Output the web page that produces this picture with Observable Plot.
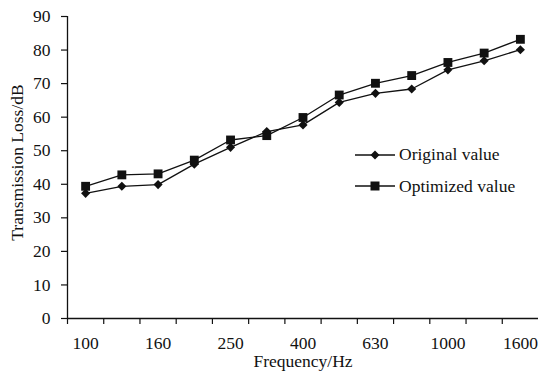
<!DOCTYPE html>
<html>
<head>
<meta charset="utf-8">
<script src="https://cdn.jsdelivr.net/npm/d3@7"></script>
<script src="https://cdn.jsdelivr.net/npm/@observablehq/plot@0.6"></script>
<style>
  html, body { margin: 0; padding: 0; background: #fff; }
  #wrap { position: relative; width: 538px; height: 375px; overflow: hidden; font-family: "Liberation Serif", "Times New Roman", serif; }
  #legend { position: absolute; left: 355px; top: 139px; font-size: 17.5px; color: #111; }
  #legend .row { display: flex; align-items: center; height: 31.5px; }
  #legend svg { display: block; margin-right: 4px; }
</style>
</head>
<body>
<div id="wrap"><div id="legend"></div></div>
<script>
const freqs = ["100","125","160","200","250","315","400","500","630","800","1000","1250","1600"];
const original  = [37.3, 39.4, 39.9, 46.0, 51.0, 55.7, 57.7, 64.4, 67.1, 68.4, 74.1, 76.8, 80.1];
const optimized = [39.4, 42.8, 43.1, 47.2, 53.2, 54.5, 59.9, 66.6, 70.1, 72.4, 76.3, 79.1, 83.2];
const yTicks = [0, 10, 20, 30, 40, 50, 60, 70, 80, 90];
const xLabels = ["100","160","250","400","630","1000","1600"];
const seriesNames = ["Original value", "Optimized value"];

const idx = (d, i) => i;
const boundaries = freqs.map((f, i) => i - 0.5);
const labelIdx = xLabels.map(l => freqs.indexOf(l));

const chart = Plot.plot({
  width: 538,
  height: 375,
  marginLeft: 67,
  marginRight: 0,
  marginTop: 16,
  marginBottom: 57,
  style: { fontFamily: "Liberation Serif, Times New Roman, serif", fontSize: "17.5px", color: "#111", background: "white" },
  x: { type: "linear", domain: [-0.5, freqs.length - 0.5] },
  y: { domain: [0, 90] },
  marks: [
    Plot.axisY(yTicks, { tickSize: 6, tickPadding: 11, fontSize: 17.5, label: null, strokeWidth: 1.2 }),
    Plot.axisX(boundaries, { tickSize: 6, tickFormat: () => "", label: null, strokeWidth: 1.2 }),
    Plot.axisX(labelIdx, { tickSize: 0, tickPadding: 18, tickFormat: i => freqs[i], fontSize: 17.5, label: null }),
    Plot.ruleY([0], { stroke: "#111", strokeWidth: 1.3 }),
    Plot.ruleX([-0.5], { y1: 0, y2: 90, stroke: "#111", strokeWidth: 1.3 }),
    Plot.line(original, { x: idx, y: d => d, stroke: "#111", strokeWidth: 1.3 }),
    Plot.line(optimized, { x: idx, y: d => d, stroke: "#111", strokeWidth: 1.3 }),
    Plot.dot(original, { x: idx, y: d => d, symbol: "diamond2", r: 4.1, fill: "#111", stroke: "none" }),
    Plot.dot(optimized, { x: idx, y: d => d, symbol: "square", r: 5, fill: "#111", stroke: "none" }),
    Plot.text(["Frequency/Hz"], { frameAnchor: "bottom", dy: 48.5, fontSize: 17.5, fill: "#111" }),
    Plot.text(["Transmission Loss/dB"], { frameAnchor: "left", textAnchor: "middle", dx: -50, dy: -5, rotate: -90, fontSize: 17.5, fill: "#111" })
  ]
});
document.getElementById("wrap").prepend(chart);

// legend
const legend = d3.select("#legend");
seriesNames.forEach((name, k) => {
  const row = legend.append("div").attr("class", "row");
  const svg = row.append("svg").attr("width", 40).attr("height", 20);
  svg.append("line").attr("x1", 0).attr("x2", 40).attr("y1", 10).attr("y2", 10)
     .attr("stroke", "#111").attr("stroke-width", 1.3);
  const sym = k === 0 ? d3.symbolDiamond2 : d3.symbolSquare;
  const size = k === 0 ? 52 : 81;
  svg.append("path").attr("d", d3.symbol(sym, size)()).attr("transform", "translate(20,10)").attr("fill", "#111");
  row.append("span").text(name);
});
</script>
</body>
</html>
